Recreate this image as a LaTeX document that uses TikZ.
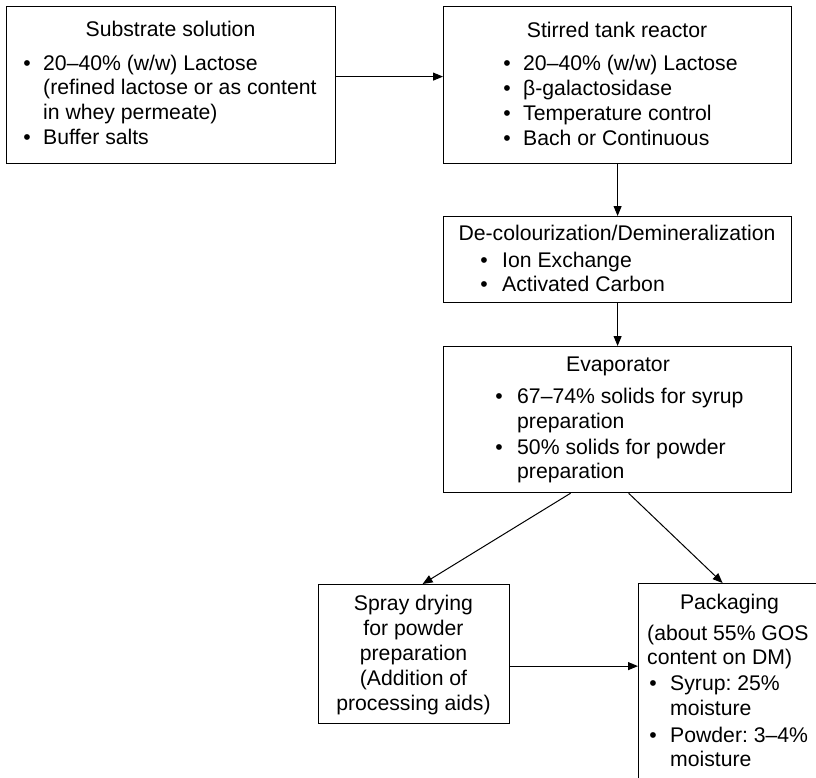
\documentclass[tikz,border=0pt]{standalone}
\usepackage{fontspec}
\setmainfont{Liberation Sans}
\usetikzlibrary{arrows.meta}
\frenchspacing
\begin{document}
\begin{tikzpicture}[x=1pt,y=-1pt,
  box/.style={draw, line width=1.2pt, inner sep=0pt, anchor=north west},
  lt/.style={anchor=base west, inner sep=0pt, font=\fontsize{21.2pt}{25pt}\selectfont},
  ct/.style={anchor=base, inner sep=0pt, font=\fontsize{21.2pt}{25pt}\selectfont},
  bul/.style={anchor=base, inner sep=0pt, font=\fontsize{21.2pt}{25pt}\selectfont},
  arr/.style={line width=1pt, -{Triangle[length=10pt,width=8pt]}}]
\useasboundingbox (0,0) rectangle (816,777);
\clip (0,0) rectangle (816,777);
% boxes
\node[box, minimum width=329pt, minimum height=157pt] (b1) at (6,6) {};
\node[box, minimum width=348pt, minimum height=157pt] (b2) at (443,6) {};
\node[box, minimum width=348pt, minimum height=86pt] (b3) at (443,216) {};
\node[box, minimum width=348pt, minimum height=146pt] (b4) at (443,346) {};
\node[box, minimum width=191pt, minimum height=139pt] (b5) at (318,584) {};
\node[box, minimum width=184pt, minimum height=220pt] (b6) at (638,583) {};
% box 1 text
\node[ct] (t1) at (170.5,36) {Substrate solution};
\node[bul] (t1b1) at (27,70) {•};
\node[lt] (t1a) at (43,70) {20–40\% (w/w) Lactose};
\node[lt] (t1c) at (43,94) {(refined lactose or as content};
\node[lt] (t1d) at (43,119) {in whey permeate)};
\node[bul] (t1b2) at (27,144) {•};
\node[lt] (t1e) at (43,144) {Buffer salts};
% box 2 text
\node[ct] (t2) at (617,37) {Stirred tank reactor};
\node[bul] (t2b1) at (507,70) {•};
\node[lt] (t2a) at (523,70) {20–40\% (w/w) Lactose};
\node[bul] (t2b2) at (507,95) {•};
\node[lt] (t2c) at (523,95) {β-galactosidase};
\node[bul] (t2b3) at (507,120) {•};
\node[lt] (t2d) at (523,120) {Temperature control};
\node[bul] (t2b4) at (507,145) {•};
\node[lt] (t2e) at (523,145) {Bach or Continuous};
% box 3 text
\node[ct] (t3) at (617,240) {De-colourization/Demineralization};
\node[bul] (t3b1) at (484,267) {•};
\node[lt] (t3a) at (502,267) {Ion Exchange};
\node[bul] (t3b2) at (484,291) {•};
\node[lt] (t3c) at (502,291) {Activated Carbon};
% box 4 text
\node[ct] (t4) at (618,371) {Evaporator};
\node[bul] (t4b1) at (499,403) {•};
\node[lt] (t4a) at (517,403) {67–74\% solids for syrup};
\node[lt] (t4c) at (517,428) {preparation};
\node[bul] (t4b2) at (499,454) {•};
\node[lt] (t4d) at (517,454) {50\% solids for powder};
\node[lt] (t4e) at (517,478) {preparation};
% box 5 text
\node[ct] (t5a) at (413.5,610) {Spray drying};
\node[ct] (t5b) at (413.5,635) {for powder};
\node[ct] (t5c) at (413.5,660) {preparation};
\node[ct] (t5d) at (413.5,685) {(Addition of};
\node[ct] (t5e) at (413.5,710) {processing aids)};
% box 6 text
\node[ct] (t6) at (729.5,609) {Packaging};
\node[lt] (t6a) at (647,640) {(about 55\% GOS};
\node[lt] (t6c) at (647,664) {content on DM)};
\node[bul] (t6b1) at (653,690) {•};
\node[lt] (t6d) at (670,690) {Syrup: 25\%};
\node[lt] (t6e) at (670,715) {moisture};
\node[bul] (t6b2) at (653,742) {•};
\node[lt] (t6f) at (670,742) {Powder: 3–4\%};
\node[lt] (t6g) at (670,766) {moisture};
% arrows
\draw[arr] ([yshift=8.5pt]b1.east) -- ([yshift=8.5pt]b2.west);
\draw[arr] (b2.south) -- (b3.north);
\draw[arr] (b3.south) -- (b4.north);
\draw[arr] ([xshift=-47pt]b4.south) -- ([xshift=8.5pt]b5.north);
\draw[arr] ([xshift=11pt]b4.south) -- ([xshift=-8pt]b6.north);
\draw[arr] ([yshift=-12pt]b5.east) -- ([yshift=-12pt]b5.east -| b6.west);
\end{tikzpicture}
\end{document}
